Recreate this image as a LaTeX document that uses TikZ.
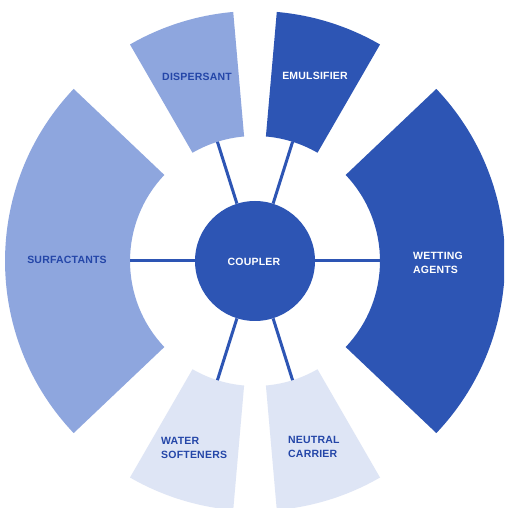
\documentclass[tikz,border=0pt]{standalone}
\usepackage{fontspec}
\usetikzlibrary{calc}
\newfontfamily\lblfont{Liberation Sans}[LetterSpace=2]
\definecolor{darkblue}{RGB}{45,85,180}
\definecolor{midblue}{RGB}{142,166,222}
\definecolor{paleblue}{RGB}{222,229,245}
\definecolor{textblue}{RGB}{36,70,168}
\begin{document}
\begin{tikzpicture}[x=1pt,y=1pt,
  lbl/.style={font=\lblfont\bfseries\fontsize{10.5}{14}\selectfont, inner sep=0pt},
  darklbl/.style={lbl, text=white},
  lightlbl/.style={lbl, text=textblue},
  link/.style={draw=darkblue, line width=3pt},
  hub/.style={circle, fill=darkblue, minimum size=120pt, inner sep=0pt}]
\useasboundingbox (0,0) rectangle (504,508);
\clip (0,0) rectangle (504,508);
\fill[white] (0,0) rectangle (504,508);
\def\rin{125}
\def\rout{250}
\coordinate (c) at (255,247);
% sectors
\foreach \a/\b/\col in {-43.5/43.5/darkblue, 136.5/223.5/midblue, 60/85/darkblue, 95/120/midblue, 240/265/paleblue, 275/300/paleblue}{
  \fill[\col, shift={(c)}] (\a:\rin) arc[start angle=\a, end angle=\b, radius=\rin]
     -- (\b:\rout) arc[start angle=\b, end angle=\a, radius=\rout] -- cycle;
}
% inner edge midpoints
\coordinate (e0) at ($(c)+(0:\rin)$);
\coordinate (e180) at ($(c)+(180:\rin)$);
\coordinate (e72) at ($(c)+(72.5:\rin)$);
\coordinate (e107) at ($(c)+(107.5:\rin)$);
\coordinate (e252) at ($(c)+(252.5:\rin)$);
\coordinate (e287) at ($(c)+(287.5:\rin)$);
\node[hub] (coupler) at (c) {};
\foreach \e in {e0,e180,e72,e107,e252,e287}{
  \draw[link] (coupler) -- (\e);
}
\node[darklbl] (couplerlbl) at (254,246) {COUPLER};
\node[lightlbl] (surf) at (67,248) {SURFACTANTS};
\node[darklbl, anchor=west, align=left] (wet) at (413,245.5) {WETTING\\AGENTS};
\node[lightlbl] (disp) at (197,431) {DISPERSANT};
\node[darklbl] (emul) at (315,432) {EMULSIFIER};
\node[lightlbl, anchor=west, align=left] (water) at (161,60) {WATER\\SOFTENERS};
\node[lightlbl, anchor=west, align=left] (neutral) at (288,61) {NEUTRAL\\CARRIER};
\end{tikzpicture}
\end{document}
